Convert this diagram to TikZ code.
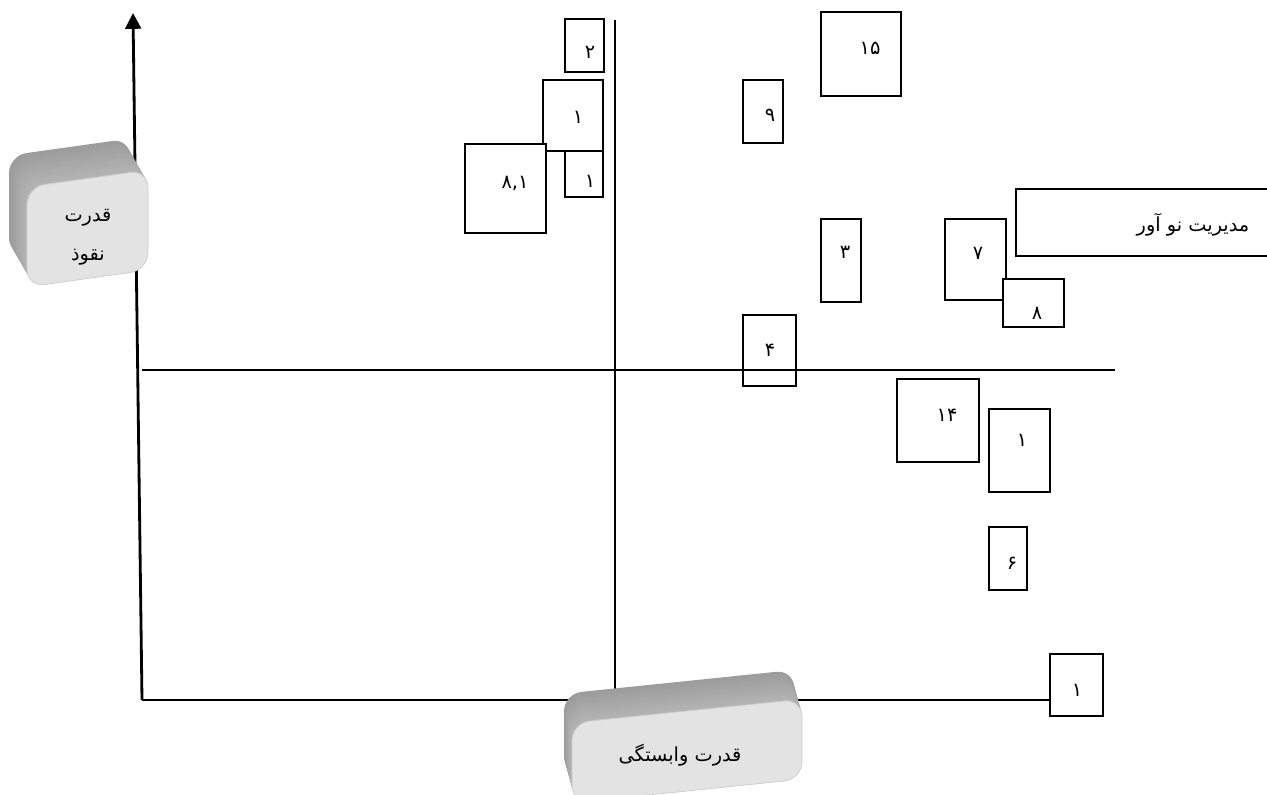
\documentclass[tikz,border=0pt]{standalone}
\usepackage{fontspec}
\usetikzlibrary{arrows.meta,fit}
\TeXXeTstate=1
\newfontfamily\arabicfont[Script=Arabic]{DejaVu Sans}
\tikzset{
  numbox/.style={draw=black, line width=1.1pt, fill=white, inner sep=0pt},
  numtext/.style={font=\arabicfont\fontsize{11}{13}\selectfont, inner sep=0pt},
  bevtext/.style={font=\arabicfont\fontsize{11}{22}\selectfont, inner sep=0pt, align=center},
  axisline/.style={line width=1.6pt},
  midline/.style={line width=1pt},
}
\newcommand{\bevelbox}[8]{%
  % #1 cx, #2 cy, #3 w, #4 h, #5 slant, #6 dx, #7 dy, #8 radius
  \begin{scope}[shift={(#1,#2)}, yslant=#5]
    \foreach \i in {20,...,1}{%
      \pgfmathsetmacro\shade{58+\i}%
      \fill[gray!\shade, rounded corners=#8]
        ({-#3/2+#6*\i/20},{-#4/2+#7*\i/20}) rectangle ({#3/2+#6*\i/20},{#4/2+#7*\i/20});
    }
    \fill[gray!22, draw=gray!40, line width=0.4pt, rounded corners=#8]
      ({-#3/2},{-#4/2}) rectangle ({#3/2},{#4/2});
  \end{scope}}
\begin{document}
\begin{tikzpicture}[x=0.02cm, y=-0.02cm]
\useasboundingbox (0,0) rectangle (1267,794);

% axes
\coordinate (origin) at (142,700);
\coordinate (ytop) at (133,13);
\draw[axisline, -{Triangle[width=9pt,length=9pt]}] (origin) -- (ytop);

% mid lines
\coordinate (vtop) at (615,20);
\coordinate (vbot) at (615,690);
\coordinate (hleft) at (142,370);
\coordinate (hright) at (1115,370);
\draw[midline] (vtop) -- (vbot);
\draw[midline] (hleft) -- (hright);

% boxes
\node[numbox, fit={(565,19) (604,72)}] (b2) {};
\node[numtext] (t2) at (590,52) {۲};
\node[numbox, fit={(543,80) (603,151)}] (b1a) {};
\node[numtext] (t1a) at (578,117) {۱};
\node[numbox, fit={(565,151) (603,197)}] (b1b) {};
\node[numtext] (t1b) at (590,181) {۱};
\node[numbox, fit={(465,144) (546,233)}] (b81) {};
\node[numtext] (t81) at (515,183) {۸,۱};
\node[numbox, fit={(821,12) (901,96)}] (b15) {};
\node[numtext] (t15) at (870,48) {۱۵};
\node[numbox, fit={(743,80) (783,143)}] (b9) {};
\node[numtext] (t9) at (770,115) {۹};
\node[numbox, fit={(821,219) (861,302)}] (b3) {};
\node[numtext] (t3) at (845,252) {۳};
\node[numbox, fit={(945,219) (1006,300)}] (b7) {};
\node[numtext] (t7) at (978,253) {۷};
\node[numbox, fit={(1003,279) (1064,327)}] (b8) {};
\node[numtext] (t8) at (1037,313) {۸};
\node[numbox, fit={(1016,189) (1280,256)}] (bmod) {};
\node[numtext] (tmod) at (1193,225) {\beginR مدیریت نو آور\endR};
\node[numbox, fill=none, fit={(743,315) (796,386)}] (b4) {};
\node[numtext] (t4) at (770,350) {۴};
\node[numbox, fit={(897,379) (979,462)}] (b14) {};
\node[numtext] (t14) at (947,415) {۱۴};
\node[numbox, fit={(989,409) (1050,492)}] (b1c) {};
\node[numtext] (t1c) at (1022,440) {۱};
\node[numbox, fit={(989,527) (1027,590)}] (b6) {};
\node[numtext] (t6) at (1012,563) {۶};
\node[numbox, fit={(1050,654) (1103,716)}] (b1d) {};
\node[numtext] (t1d) at (1077,690) {۱};

\draw[axisline] (origin) -- (origin -| b1d.west);

% bevel labels
\bevelbox{87.5}{228.5}{121}{100}{0.14}{-18}{-34}{10pt}
\node[bevtext] (lblY) at (88,237) {\beginR قدرت\endR\\\beginR نقوذ\endR};
\bevelbox{687}{751}{230}{80}{0.103}{-8}{-30}{10pt}
\node[bevtext] (lblX) at (680,755) {\beginR قدرت وابستگی\endR};
\end{tikzpicture}
\end{document}
